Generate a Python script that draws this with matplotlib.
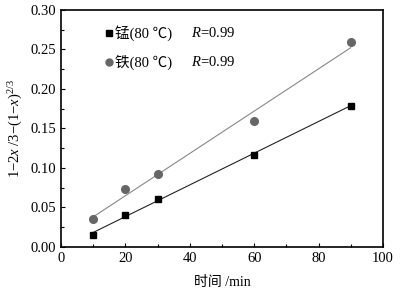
import numpy as np
import matplotlib
matplotlib.use("Agg")
import matplotlib.pyplot as plt

plt.rcParams['font.family'] = ['Liberation Serif', 'Noto Sans CJK SC']
plt.rcParams['mathtext.fontset'] = 'custom'
plt.rcParams['mathtext.rm'] = 'Liberation Serif'
plt.rcParams['mathtext.it'] = 'Liberation Serif:italic'

time_min = [10, 20, 30, 60, 90]
mn_values = [0.015, 0.041, 0.061, 0.117, 0.179]
fe_values = [0.035, 0.073, 0.093, 0.159, 0.259]
mn_label = '锰(80 ℃)'
fe_label = '铁(80 ℃)'

fig = plt.figure(figsize=(4.13, 2.94), dpi=100)
ax = fig.add_axes([0.148, 0.160, 0.779, 0.806])

xs = np.array([10, 90])
for vals, col, lc, mk, ms in [(mn_values, 'black', '#222222', 's', 4.5),
                               (fe_values, '#666666', '#888888', 'o', 5.5)]:
    p = np.polyfit(time_min, vals, 1)
    ax.plot(xs, np.polyval(p, xs), color=lc, lw=0.8, zorder=2)
    ax.plot(time_min, vals, linestyle='none', marker=mk, color=col, ms=ms, zorder=3)

ax.set_xlim(0, 100)
ax.set_ylim(0, 0.30)
ax.set_xticks([0, 20, 40, 60, 80, 100])
ax.set_yticks(np.arange(0, 0.31, 0.05))
ax.set_yticklabels([f'{v:.2f}' for v in np.arange(0, 0.31, 0.05)])
ax.set_xticks(np.arange(0, 101, 10), minor=True)
ax.set_yticks(np.arange(0, 0.301, 0.025), minor=True)
ax.tick_params(which='both', direction='in', labelsize=10.5, width=0.8)
ax.tick_params(which='major', length=3)
ax.tick_params(which='minor', length=2)
for s in ax.spines.values():
    s.set_linewidth(1.2)

ax.set_xlabel('时间 /min', fontsize=10, labelpad=8)
ax.set_ylabel(r'$\mathrm{1{-}2}x\ \mathrm{/3{-}(1{-}}x\mathrm{)}^{2/3}$', fontsize=10.5, labelpad=4)

# legend-like annotations
ax.plot([0.149], [0.903], marker='s', color='black', ms=4.5, transform=ax.transAxes, clip_on=False)
ax.plot([0.149], [0.781], marker='o', color='#666666', ms=5, transform=ax.transAxes, clip_on=False)
ax.text(0.168, 0.903, mn_label, transform=ax.transAxes, va='center', fontsize=10.5)
ax.text(0.168, 0.781, fe_label, transform=ax.transAxes, va='center', fontsize=10.5)
for y in (0.903, 0.781):
    ax.text(0.405, y, r'$R$=0.99', transform=ax.transAxes, va='center', fontsize=10.5)

fig.savefig('out.png', dpi=100)
